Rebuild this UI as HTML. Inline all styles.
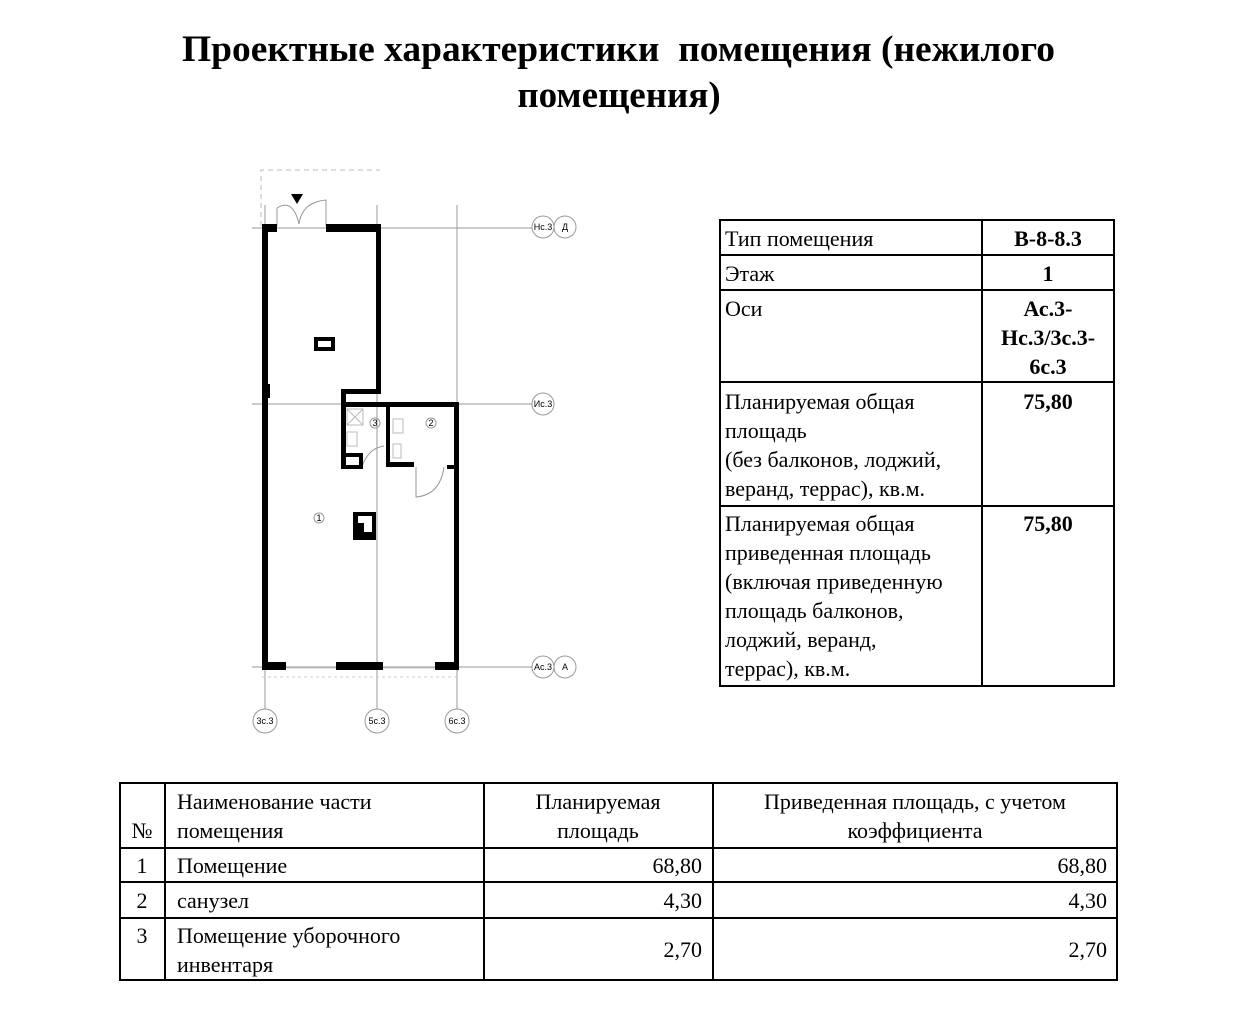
<!DOCTYPE html>
<html><head><meta charset="utf-8"><style>
html,body{margin:0;padding:0;background:#fff;}
svg{display:block;}
text{font-family:"Liberation Serif",serif;fill:#000;}
.t{font-size:22px;}
.b{font-weight:bold;}
.s{font-family:"Liberation Sans",sans-serif;font-size:9px;}
</style></head><body>
<svg width="1242" height="1009" viewBox="0 0 1242 1009" xmlns="http://www.w3.org/2000/svg">
<text x="182" y="61" font-size="37" class="b" textLength="873" lengthAdjust="spacingAndGlyphs" xml:space="preserve">Проектные характеристики  помещения (нежилого</text>
<text x="619" y="107" text-anchor="middle" font-size="37" class="b">помещения)</text>

<!-- plan -->
<g stroke="#999" stroke-width="1" fill="none">
<path d="M261 226 V170 H380" stroke-dasharray="5,4" stroke="#bbb"/>
<line x1="252" y1="228" x2="532" y2="228"/>
<line x1="252" y1="404" x2="532" y2="404"/>
<line x1="252" y1="667" x2="532" y2="667"/>
<line x1="265" y1="205" x2="265" y2="709"/>
<line x1="377" y1="205" x2="377" y2="709"/>
<line x1="457" y1="205" x2="457" y2="709"/>
<line x1="286" y1="668" x2="336" y2="668" stroke="#ccc"/>
<line x1="383" y1="668" x2="435" y2="668" stroke="#ccc"/>
<line x1="262" y1="677" x2="459" y2="677" stroke="#ccc" stroke-dasharray="3,3"/>
<circle cx="543" cy="227" r="11"/><circle cx="565" cy="227" r="11"/>
<circle cx="543" cy="404" r="11"/>
<circle cx="543" cy="667" r="11"/><circle cx="565" cy="667" r="11"/>
<circle cx="265" cy="721" r="12"/><circle cx="377" cy="721" r="12"/><circle cx="457" cy="721" r="12"/>
<circle cx="319" cy="518" r="5"/><circle cx="375" cy="423" r="5"/><circle cx="431" cy="423" r="5"/>
<path d="M277 226 V208 Q293 198 299 224" /><path d="M326 226 V200 Q302 202 299 224"/>
<path d="M416 467 V497 Q440 495 444 467"/>
<path d="M362 467 Q368 448 384 446"/>
<rect x="347" y="409" width="16" height="16" stroke="#bbb"/>
<path d="M347 409 L363 425 M363 409 L347 425" stroke="#bbb"/>
<rect x="347" y="432" width="10" height="14" stroke="#bbb"/>
<rect x="393" y="419" width="10" height="14" stroke="#bbb"/>
<rect x="393" y="444" width="8" height="14" stroke="#bbb"/>
</g>
<g fill="#000">
<polygon points="291,194 303,194 297,204"/>
<rect x="262" y="224" width="15" height="8"/>
<rect x="326" y="224" width="55" height="8"/>
<rect x="262" y="224" width="6" height="446"/>
<rect x="262" y="384" width="8" height="14"/>
<rect x="376" y="224" width="5" height="170"/>
<rect x="341" y="389" width="40" height="5"/>
<rect x="341" y="389" width="5" height="80"/>
<rect x="341" y="453" width="22" height="16"/>
<rect x="341" y="402" width="118" height="5"/>
<rect x="386" y="402" width="4" height="65"/>
<rect x="386" y="462" width="28" height="5"/>
<rect x="454" y="402" width="5" height="268"/>
<rect x="447" y="465" width="10" height="4"/>
<rect x="262" y="662" width="24" height="8"/>
<rect x="336" y="662" width="47" height="8"/>
<rect x="435" y="662" width="24" height="8"/>
<rect x="314" y="337" width="21" height="14"/>
<rect x="353" y="512" width="23" height="28"/>
</g>
<rect x="318" y="341" width="13" height="6" fill="#fff"/>
<rect x="346" y="457" width="13" height="8" fill="#fff"/>
<rect x="364" y="516" width="8" height="16" fill="#fff"/>
<rect x="358" y="516" width="6" height="7" fill="#fff"/>
<text class="s" x="543" y="230" text-anchor="middle">Нс.3</text>
<text class="s" x="565" y="230" text-anchor="middle">Д</text>
<text class="s" x="543" y="407" text-anchor="middle">Ис.3</text>
<text class="s" x="543" y="670" text-anchor="middle">Ас.3</text>
<text class="s" x="565" y="670" text-anchor="middle">А</text>
<text class="s" x="265" y="724" text-anchor="middle">3с.3</text>
<text class="s" x="377" y="724" text-anchor="middle">5с.3</text>
<text class="s" x="457" y="724" text-anchor="middle">6с.3</text>
<text class="s" x="319" y="521" text-anchor="middle" font-size="8">1</text>
<text class="s" x="375" y="426" text-anchor="middle" font-size="8">3</text>
<text class="s" x="431" y="426" text-anchor="middle" font-size="8">2</text>

<!-- right table -->
<g stroke="#000" stroke-width="2" fill="none">
<rect x="720" y="220" width="394" height="466"/>
<line x1="982" y1="220" x2="982" y2="686"/>
<line x1="720" y1="255" x2="1114" y2="255"/>
<line x1="720" y1="290" x2="1114" y2="290"/>
<line x1="720" y1="382" x2="1114" y2="382"/>
<line x1="720" y1="506" x2="1114" y2="506"/>
</g>
<g class="t">
<text x="725" y="246">Тип помещения</text>
<text x="725" y="281">Этаж</text>
<text x="725" y="316">Оси</text>
<text x="725" y="409">Планируемая общая</text>
<text x="725" y="438">площадь</text>
<text x="725" y="467">(без балконов, лоджий,</text>
<text x="725" y="496">веранд, террас), кв.м.</text>
<text x="725" y="531">Планируемая общая</text>
<text x="725" y="560">приведенная площадь</text>
<text x="725" y="589">(включая приведенную</text>
<text x="725" y="618">площадь балконов,</text>
<text x="725" y="647">лоджий, веранд,</text>
<text x="725" y="676">террас), кв.м.</text>
</g>
<g class="t b" text-anchor="middle">
<text x="1048" y="246">В-8-8.3</text>
<text x="1048" y="281">1</text>
<text x="1048" y="316">Ас.3-</text>
<text x="1048" y="345">Нс.3/3с.3-</text>
<text x="1048" y="374">6с.3</text>
<text x="1048" y="409">75,80</text>
<text x="1048" y="531">75,80</text>
</g>

<!-- bottom table -->
<g stroke="#000" stroke-width="2" fill="none">
<rect x="120" y="783" width="997" height="197"/>
<line x1="165" y1="783" x2="165" y2="980"/>
<line x1="484" y1="783" x2="484" y2="980"/>
<line x1="713" y1="783" x2="713" y2="980"/>
<line x1="120" y1="848" x2="1117" y2="848"/>
<line x1="120" y1="882" x2="1117" y2="882"/>
<line x1="120" y1="918" x2="1117" y2="918"/>
</g>
<g class="t">
<text x="142" y="838" text-anchor="middle">№</text>
<text x="177" y="809">Наименование части</text>
<text x="177" y="838">помещения</text>
<text x="598" y="809" text-anchor="middle">Планируемая</text>
<text x="598" y="838" text-anchor="middle">площадь</text>
<text x="915" y="809" text-anchor="middle">Приведенная площадь, с учетом</text>
<text x="915" y="838" text-anchor="middle">коэффициента</text>
<text x="142" y="873" text-anchor="middle">1</text>
<text x="177" y="873">Помещение</text>
<text x="702" y="873" text-anchor="end">68,80</text>
<text x="1107" y="873" text-anchor="end">68,80</text>
<text x="142" y="908" text-anchor="middle">2</text>
<text x="177" y="908">санузел</text>
<text x="702" y="908" text-anchor="end">4,30</text>
<text x="1107" y="908" text-anchor="end">4,30</text>
<text x="142" y="943" text-anchor="middle">3</text>
<text x="177" y="943">Помещение уборочного</text>
<text x="177" y="972">инвентаря</text>
<text x="702" y="957" text-anchor="end">2,70</text>
<text x="1107" y="957" text-anchor="end">2,70</text>
</g>
</svg>
</body></html>
